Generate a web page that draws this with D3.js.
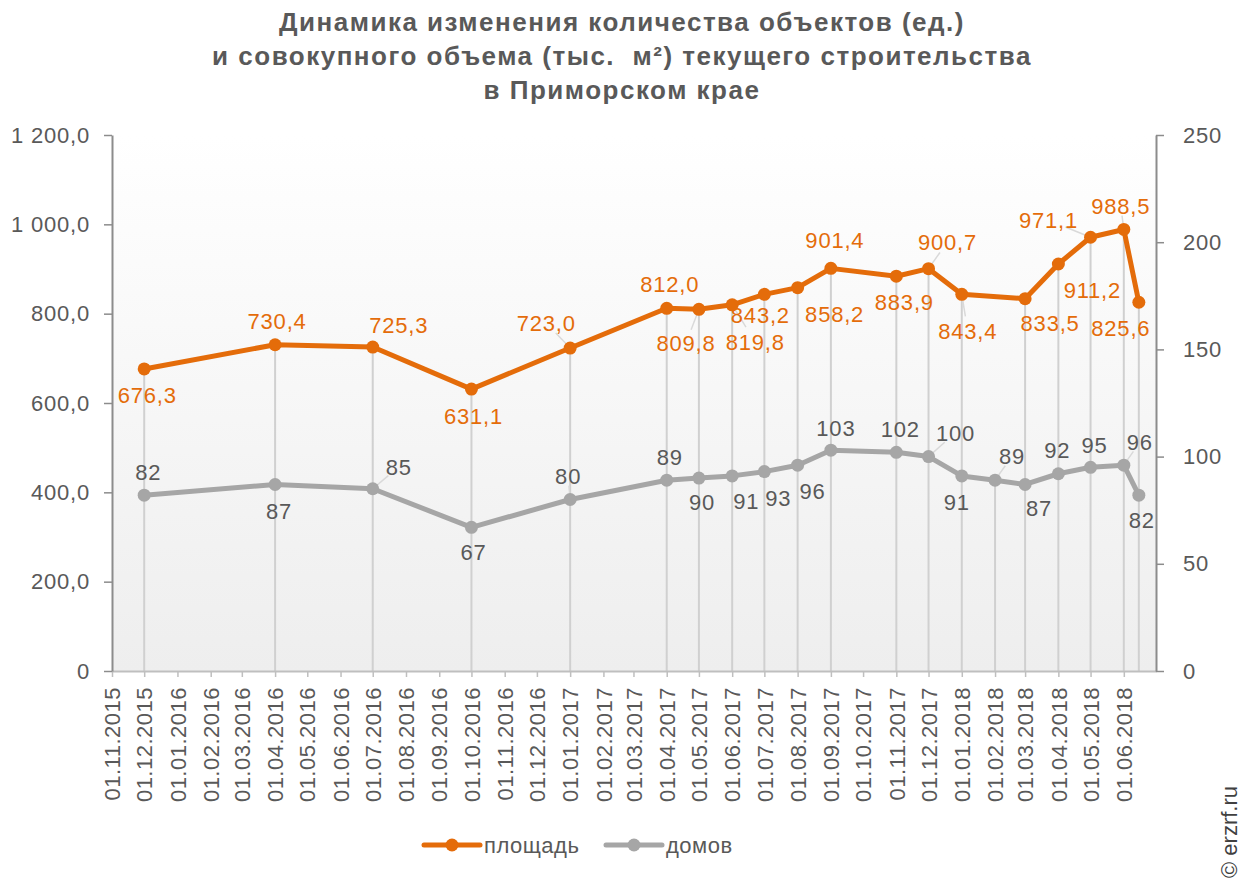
<!DOCTYPE html>
<html>
<head>
<meta charset="utf-8">
<script src="https://cdnjs.cloudflare.com/ajax/libs/d3/7.8.5/d3.min.js"></script>
<style>
  body { margin: 0; background: #fff; }
  svg { display: block; font-family: "Liberation Sans", Arial, sans-serif; }
</style>
</head>
<body>
<script>
// dates of the reporting points (dd.mm.yyyy)
var dates = ["01.12.2015", "01.04.2016", "01.07.2016", "01.10.2016", "01.01.2017",
             "01.04.2017", "01.05.2017", "01.06.2017", "01.07.2017", "01.08.2017",
             "01.09.2017", "01.11.2017", "01.12.2017", "01.01.2018", "01.02.2018",
             "01.03.2018", "01.04.2018", "01.05.2018", "01.06.2018", "15.06.2018"];

// площадь, тыс. м² (left axis)
var area = [676.3, 730.4, 725.3, 631.1, 723.0, 812.0, 809.8, 819.8, 843.2, 858.2,
            901.4, 883.9, 900.7, 843.4, null, 833.5, 911.2, 971.1, 988.5, 825.6];

// домов, ед. (right axis)
var houses = [82, 87, 85, 67, 80, 89, 90, 91, 93, 96,
              103, 102, 100, 91, 89, 87, 92, 95, 96, 82];

var leftTicks = [0, 200, 400, 600, 800, 1000, 1200];
var rightTicks = [0, 50, 100, 150, 200, 250];
var seriesNames = ["площадь", "домов"];

// label placement (offset of label centre from the point)
var areaLabelPos = [[3,26],[2,-24],[26,-22],[2,27],[-24,-25],[3,-24],[-13,34],[23,37],[-4,21],[37,26],
                    [4,-28],[8,26],[19,-27],[6,37],null,[25,24],[34,26],[-42,-17],[-3,-23],[-18,26]];
var houseLabelPos = [[4,-23],[4,27],[26,-22],[2,25],[-2,-23],[3,-23],[3,24],[14,25],[14,26],[15,26],
                     [5,-22],[4,-23],[27,-24],[-5,26],[17,-24],[14,24],[-1,-24],[4,-22],[16,-23],[3,25]];
var areaLeader = [0,0,0,0,1,0,1,1,0,0, 0,0,1,1,0,0,0,1,1,0];
var houseLeader = [0,0,1,0,1,0,0,0,0,0, 0,0,1,0,1,0,1,0,1,0];

var W = 1248, H = 884;
var margin = {left: 112, right: 1156, top: 135, bottom: 671};
var orange = "#E46C0A", grey = "#A6A6A6", textGrey = "#595959";

var parse = d3.timeParse("%d.%m.%Y");
var fmtTick = d3.timeFormat("%d.%m.%Y");

var svg = d3.select("body").append("svg")
    .attr("width", W)
    .attr("height", H);

var defs = svg.append("defs");
var grad = defs.append("linearGradient")
    .attr("id", "bg").attr("x1", 0).attr("y1", 0).attr("x2", 0).attr("y2", 1);
grad.append("stop").attr("offset", "0%").attr("stop-color", "#ffffff");
grad.append("stop").attr("offset", "100%").attr("stop-color", "#eeeeee");

var xScale = d3.scaleTime()
    .domain([parse("01.11.2015"), parse("01.07.2018")])
    .range([margin.left, margin.right]);

var yLeft = d3.scaleLinear().domain([0, 1200]).range([margin.bottom, margin.top]);
var yRight = d3.scaleLinear().domain([0, 250]).range([margin.bottom, margin.top]);

var points = dates.map(function(d, i){
    return {date: parse(d), area: area[i], houses: houses[i], i: i};
});

// plot area background
svg.append("rect")
    .attr("x", margin.left).attr("y", margin.top)
    .attr("width", margin.right - margin.left)
    .attr("height", margin.bottom - margin.top)
    .attr("fill", "url(#bg)");

// title
var title = ["Динамика изменения количества объектов (ед.)",
             "и совокупного объема (тыс.  м²) текущего строительства",
             "в Приморском крае"];
svg.append("g").selectAll("text")
    .data(title)
    .enter().append("text")
    .attr("x", 622)
    .attr("y", function(d, i){ return 31 + i * 34; })
    .attr("text-anchor", "middle")
    .attr("font-size", 26)
    .attr("letter-spacing", 1.5)
    .attr("font-weight", "bold")
    .attr("fill", textGrey)
    .style("white-space", "pre")
    .text(function(d){ return d; });

// drop lines
svg.append("g").selectAll("line")
    .data(points)
    .enter().append("line")
    .attr("x1", function(d){ return xScale(d.date); })
    .attr("x2", function(d){ return xScale(d.date); })
    .attr("y1", function(d){
        var ys = [yRight(d.houses)];
        if (d.area != null) ys.push(yLeft(d.area));
        return d3.min(ys);
    })
    .attr("y2", margin.bottom)
    .attr("stroke", "#d0d0d0")
    .attr("stroke-width", 2);

// axes
var monthTicks = d3.timeMonth.range(parse("01.11.2015"), parse("02.06.2018"));

var xAxis = d3.axisBottom(xScale)
    .tickValues(monthTicks)
    .tickFormat(fmtTick)
    .tickSize(6)
    .tickSizeOuter(0);

var gx = svg.append("g")
    .attr("transform", "translate(0," + margin.bottom + ")")
    .call(xAxis);
gx.select(".domain").attr("stroke", "#bfbfbf").attr("stroke-width", 2);
gx.selectAll(".tick line").attr("stroke", "#bfbfbf").attr("stroke-width", 1.5);
gx.selectAll(".tick text")
    .attr("transform", "rotate(-90)")
    .attr("text-anchor", "end")
    .attr("x", -16)
    .attr("y", 0)
    .attr("dy", "0.35em")
    .attr("font-size", 22)
    .attr("letter-spacing", 0.5)
    .attr("font-family", "Liberation Sans, Arial, sans-serif")
    .attr("fill", textGrey);

var fmtLeft = function(v){
    if (v === 0) return "0";
    var s = d3.format(",.1f")(v);
    return s.replace(/,/g, " ").replace(".", ",");
};

var yAxisL = d3.axisLeft(yLeft)
    .tickValues(leftTicks)
    .tickFormat(fmtLeft)
    .tickSize(8)
    .tickSizeOuter(0)
    .tickPadding(14);
var gyl = svg.append("g")
    .attr("transform", "translate(" + margin.left + ",0)")
    .call(yAxisL);
gyl.select(".domain").attr("stroke", "#8c8c8c").attr("stroke-width", 2);
gyl.selectAll(".tick line").attr("stroke", "#8c8c8c").attr("stroke-width", 1.5);
gyl.selectAll(".tick text")
    .attr("font-size", 22)
    .attr("letter-spacing", 0.8)
    .attr("font-family", "Liberation Sans, Arial, sans-serif")
    .attr("fill", textGrey);

var yAxisR = d3.axisRight(yRight)
    .tickValues(rightTicks)
    .tickFormat(d3.format("d"))
    .tickSize(8)
    .tickSizeOuter(0)
    .tickPadding(19);
var gyr = svg.append("g")
    .attr("transform", "translate(" + margin.right + ",0)")
    .call(yAxisR);
gyr.select(".domain").attr("stroke", "#8c8c8c").attr("stroke-width", 2);
gyr.selectAll(".tick line").attr("stroke", "#8c8c8c").attr("stroke-width", 1.5);
gyr.selectAll(".tick text")
    .attr("font-size", 22)
    .attr("letter-spacing", 0.8)
    .attr("font-family", "Liberation Sans, Arial, sans-serif")
    .attr("fill", textGrey);

// lines
var lineArea = d3.line()
    .defined(function(d){ return d.area != null; })
    .x(function(d){ return xScale(d.date); })
    .y(function(d){ return yLeft(d.area); });
var lineHouses = d3.line()
    .x(function(d){ return xScale(d.date); })
    .y(function(d){ return yRight(d.houses); });

var areaPts = points.filter(function(d){ return d.area != null; });

// leader lines
function leaders(data, yf, pos, flags){
    svg.append("g").selectAll("line")
        .data(data.filter(function(d){ return flags[d.i]; }))
        .enter().append("line")
        .attr("x1", function(d){ return xScale(d.date); })
        .attr("y1", function(d){ return yf(d); })
        .attr("x2", function(d){ return xScale(d.date) + pos[d.i][0] * 0.6; })
        .attr("y2", function(d){ return yf(d) + pos[d.i][1] * 0.6; })
        .attr("stroke", "#d9d9d9")
        .attr("stroke-width", 1.5);
}
leaders(areaPts, function(d){ return yLeft(d.area); }, areaLabelPos, areaLeader);
leaders(points, function(d){ return yRight(d.houses); }, houseLabelPos, houseLeader);

svg.append("path")
    .datum(points)
    .attr("d", lineHouses)
    .attr("fill", "none")
    .attr("stroke", grey)
    .attr("stroke-width", 5)
    .attr("stroke-linejoin", "round");

svg.append("g").selectAll("circle")
    .data(points)
    .enter().append("circle")
    .attr("cx", function(d){ return xScale(d.date); })
    .attr("cy", function(d){ return yRight(d.houses); })
    .attr("r", 6.5)
    .attr("fill", grey);

svg.append("path")
    .datum(areaPts)
    .attr("d", lineArea)
    .attr("fill", "none")
    .attr("stroke", orange)
    .attr("stroke-width", 5)
    .attr("stroke-linejoin", "round");

svg.append("g").selectAll("circle")
    .data(areaPts)
    .enter().append("circle")
    .attr("cx", function(d){ return xScale(d.date); })
    .attr("cy", function(d){ return yLeft(d.area); })
    .attr("r", 6.5)
    .attr("fill", orange);

// data labels
var fmtArea = function(v){ return d3.format(".1f")(v).replace(".", ","); };

svg.append("g").selectAll("text")
    .data(areaPts)
    .enter().append("text")
    .attr("x", function(d){ return xScale(d.date) + areaLabelPos[d.i][0]; })
    .attr("y", function(d){ return yLeft(d.area) + areaLabelPos[d.i][1]; })
    .attr("dy", "0.36em")
    .attr("text-anchor", "middle")
    .attr("font-size", 22)
    .attr("letter-spacing", 0.8)
    .attr("fill", orange)
    .text(function(d){ return fmtArea(d.area); });

svg.append("g").selectAll("text")
    .data(points)
    .enter().append("text")
    .attr("x", function(d){ return xScale(d.date) + houseLabelPos[d.i][0]; })
    .attr("y", function(d){ return yRight(d.houses) + houseLabelPos[d.i][1]; })
    .attr("dy", "0.36em")
    .attr("text-anchor", "middle")
    .attr("font-size", 22)
    .attr("letter-spacing", 0.8)
    .attr("fill", textGrey)
    .text(function(d){ return d.houses; });

// legend
var legend = svg.append("g")
    .selectAll("g")
    .data(seriesNames)
    .enter().append("g")
    .attr("transform", function(d, i){ return "translate(" + (i === 0 ? 424 : 606) + ",845)"; });
legend.append("line")
    .attr("x1", 0).attr("x2", 56).attr("y1", 0).attr("y2", 0)
    .attr("stroke", function(d, i){ return i === 0 ? orange : grey; })
    .attr("stroke-width", 5)
    .attr("stroke-linecap", "round");
legend.append("circle")
    .attr("cx", 28).attr("cy", 0).attr("r", 6.5)
    .attr("fill", function(d, i){ return i === 0 ? orange : grey; });
legend.append("text")
    .attr("x", 60)
    .attr("y", 0)
    .attr("dy", "0.36em")
    .attr("font-size", 22)
    .attr("letter-spacing", 0.5)
    .attr("fill", textGrey)
    .text(function(d){ return d; });

// copyright
svg.append("text")
    .attr("transform", "translate(1237,878) rotate(-90)")
    .attr("font-size", 22)
    .attr("fill", "#404040")
    .text("© erzrf.ru");
</script>
</body>
</html>
